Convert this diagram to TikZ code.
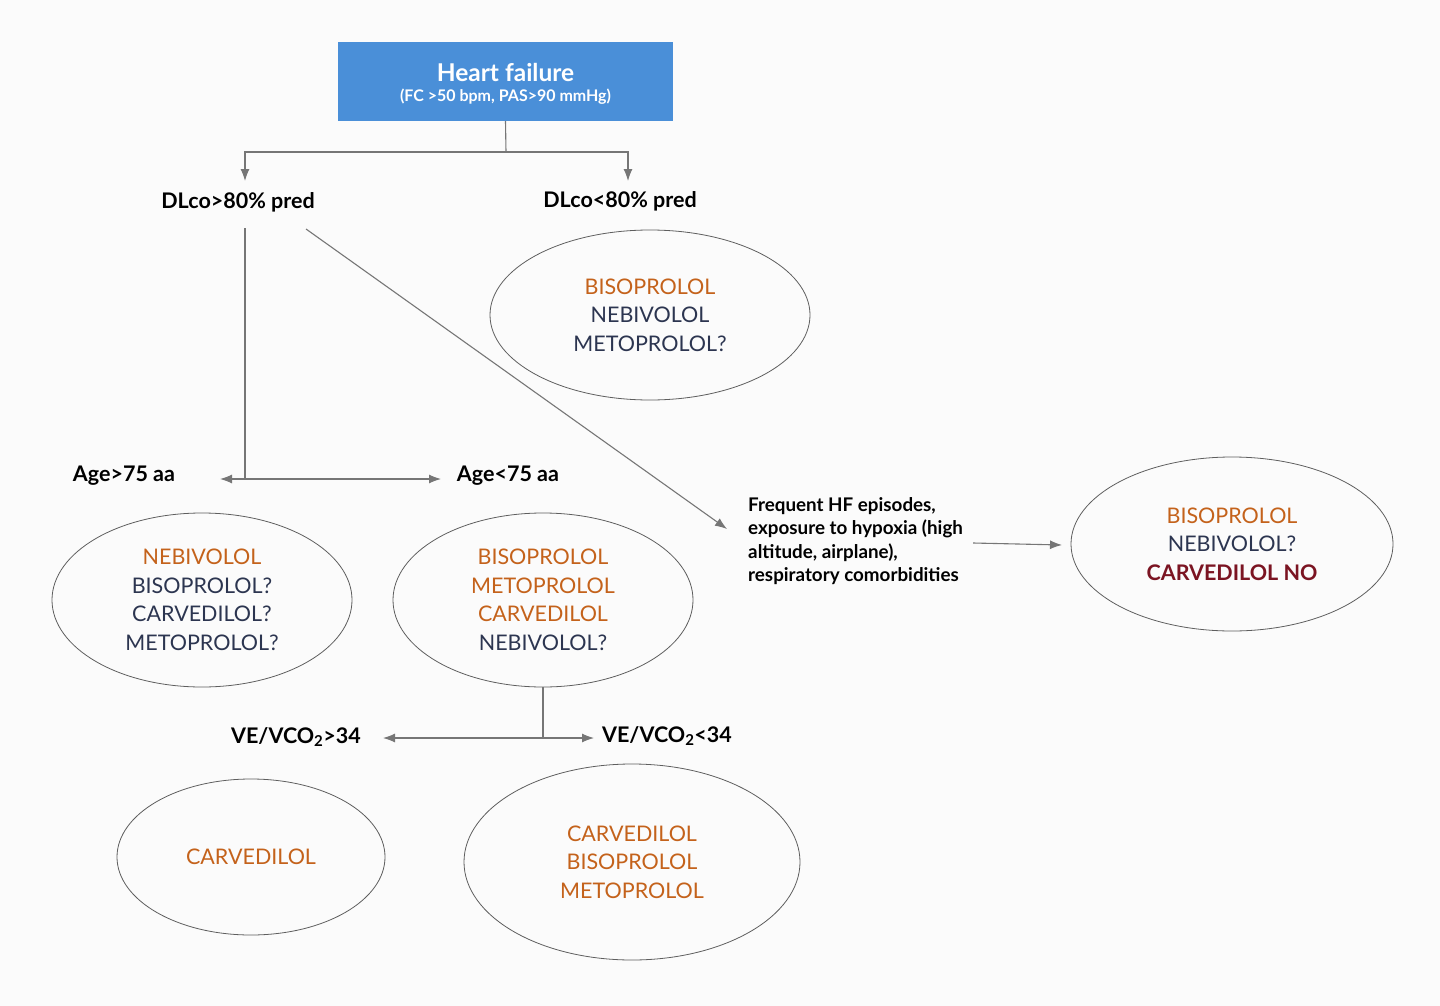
\documentclass[tikz,border=0pt]{standalone}
\usepackage{fontspec}
\setmainfont{Lato}
\usetikzlibrary{shapes.geometric,arrows.meta}
\definecolor{orng}{HTML}{C4621B}
\definecolor{navy}{HTML}{2C3550}
\definecolor{dred}{HTML}{7B1422}
\definecolor{hfblue}{HTML}{4A8FD8}
\definecolor{linegray}{HTML}{767676}
\definecolor{ovalgray}{HTML}{5E5E5E}
\definecolor{bg}{HTML}{FBFBFB}
\begin{document}
\begin{tikzpicture}[x=1pt,y=-1pt,
  conn/.style={draw=linegray, line width=1.1pt},
  arr/.style={conn,-{Latex[length=12pt,width=9pt]}},
  oval/.style={ellipse, draw=ovalgray, line width=0.8pt, inner sep=0pt, align=center, font=\fontsize{21.5}{28.5}\selectfont},
  lbl/.style={font=\bfseries\fontsize{21.5}{24}\selectfont, inner sep=0pt, text=black}]
\fill[bg] (0,0) rectangle (1440,1006);
\useasboundingbox (0,0) rectangle (1440,1006);

% top box
\node[fill=hfblue, minimum width=335pt, minimum height=79pt, inner sep=0pt] (hf) at (505.5,81.5) {};
\node[inner sep=0pt, align=center, text=white,
  font=\bfseries\fontsize{16}{22}\selectfont] (hft) at (505.5,84)
  {{\fontsize{24.5}{26}\selectfont Heart failure}\\[-2pt](FC >50 bpm, PAS>90 mmHg)};

% level 1 labels
\node[lbl] (dl1) at (238,202) {DLco>80\% pred};
\node[lbl] (dl2) at (620,201) {DLco<80\% pred};

\coordinate (j1) at (506,152);
\coordinate (t1) at (245,181);
\coordinate (t2) at (628,181);
\draw[conn] (hf.south) -- (j1);
\draw[arr] (j1) -| (t1);
\draw[arr] (j1) -| (t2);

% ellipse DLco<80
\node[oval, minimum width=320pt, minimum height=170pt] (e1) at (650,315)
  {\textcolor{orng}{BISOPROLOL}\\\textcolor{navy}{NEBIVOLOL}\\\textcolor{navy}{METOPROLOL?}};

% age split
\node[lbl] (age1) at (124,476) {Age>75 aa};
\node[lbl] (age2) at (508,476) {Age<75 aa};
\coordinate (s2) at (245,228);
\coordinate (j2) at (245,479);
\coordinate (t3) at (220,479);
\coordinate (t4) at (441,479);
\draw[conn] (s2) -- (j2);
\draw[arr] (j2) -- (t3);
\draw[arr] (j2) -- (t4);

% frequent HF
\node[inner sep=0pt, align=left, anchor=west, font=\bfseries\fontsize{18.8}{23.5}\selectfont] (freq) at (748,541)
  {Frequent HF episodes,\\exposure to hypoxia (high\\altitude, airplane),\\respiratory comorbidities};
\coordinate (s3) at (306,229);
\coordinate (t5) at (727,529);
\draw[arr] (s3) -- (t5);

\node[oval, minimum width=322pt, minimum height=174pt] (e2) at (1232,544)
  {\textcolor{orng}{BISOPROLOL}\\\textcolor{navy}{NEBIVOLOL?}\\\textcolor{dred}{\bfseries CARVEDILOL NO}};
\coordinate (s4) at (973,543);
\coordinate (t6) at (1062,545);
\draw[arr] (s4) -- (t6);

% age ellipses
\node[oval, minimum width=300pt, minimum height=174pt] (e3) at (202,600)
  {\textcolor{orng}{NEBIVOLOL}\\\textcolor{navy}{BISOPROLOL?}\\\textcolor{navy}{CARVEDILOL?}\\\textcolor{navy}{METOPROLOL?}};
\node[oval, minimum width=300pt, minimum height=174pt] (e4) at (543,600)
  {\textcolor{orng}{BISOPROLOL}\\\textcolor{orng}{METOPROLOL}\\\textcolor{orng}{CARVEDILOL}\\\textcolor{navy}{NEBIVOLOL?}};

% VE/VCO2 split
\node[lbl] (ve1) at (296,737) {VE/VCO\textsubscript{2}>34};
\node[lbl] (ve2) at (667,736) {VE/VCO\textsubscript{2}<34};
\coordinate (j3) at (543,738);
\coordinate (t7) at (383,738);
\coordinate (t8) at (594,738);
\draw[conn] (e4.south) -- (j3);
\draw[arr] (j3) -- (t7);
\draw[arr] (j3) -- (t8);

\node[oval, minimum width=268pt, minimum height=156pt] (e5) at (251,857)
  {\textcolor{orng}{CARVEDILOL}};
\node[oval, minimum width=336pt, minimum height=196pt] (e6) at (632,862)
  {\textcolor{orng}{CARVEDILOL}\\\textcolor{orng}{BISOPROLOL}\\\textcolor{orng}{METOPROLOL}};
\end{tikzpicture}
\end{document}
